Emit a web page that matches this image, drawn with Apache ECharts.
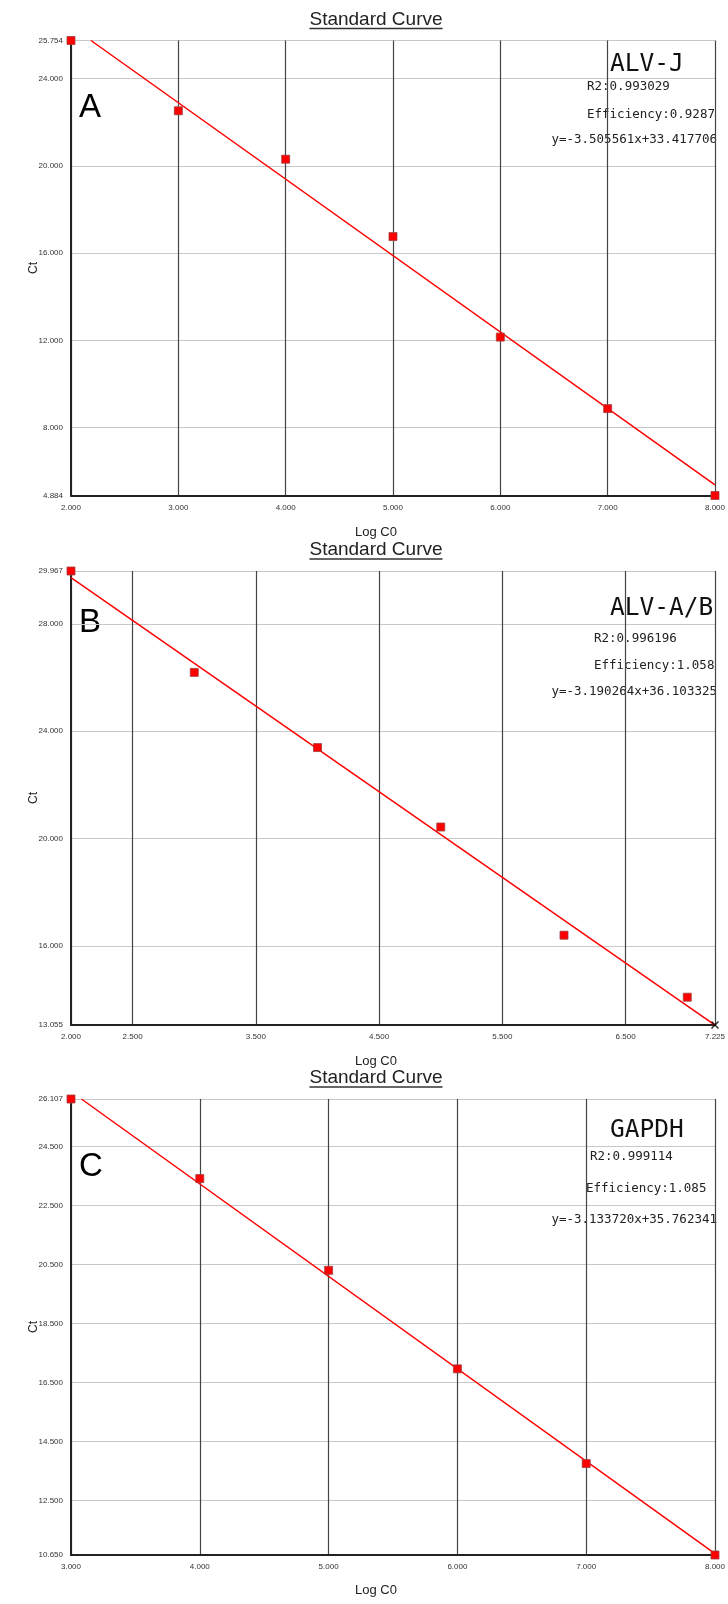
<!DOCTYPE html>
<html>
<head>
<meta charset="utf-8">
<script src="https://cdn.jsdelivr.net/npm/echarts@6/dist/echarts.min.js"></script>
<style>
  html, body { margin: 0; padding: 0; background: #fff; }
  #chart { width: 728px; height: 1604px; }
</style>
</head>
<body>
<div id="chart"></div>
<script>
// panel A (ALV-J)
const logC0A = [2, 3, 4, 5, 6, 7, 8];
const ctA = [25.754, 22.53, 20.31, 16.76, 12.15, 8.87, 4.884];
const fitA = [[2.186, 25.754], [8, 5.373]];
const xTicksA = [2, 3, 4, 5, 6, 7, 8];
const yTicksA = [4.884, 8, 12, 16, 20, 24, 25.754];

// panel B (ALV-A/B)
const logC0B = [2, 3, 4, 5, 6, 7];
const ctB = [29.967, 26.19, 23.39, 20.43, 16.4, 14.09];
const fitB = [[2, 29.723], [7.225, 13.054]];
const crossB = [[7.225, 13.055]];
const xTicksB = [2, 2.5, 3.5, 4.5, 5.5, 6.5, 7.225];
const yTicksB = [13.055, 16, 20, 24, 28, 29.967];

// panel C (GAPDH)
const logC0C = [3, 4, 5, 6, 7, 8];
const ctC = [26.107, 23.41, 20.3, 16.96, 13.75, 10.65];
const fitC = [[3.081, 26.107], [8, 10.693]];
const xTicksC = [3, 4, 5, 6, 7, 8];
const yTicksC = [10.65, 12.5, 14.5, 16.5, 18.5, 20.5, 22.5, 24.5, 26.107];

const panelLetters = ['A', 'B', 'C'];
const geneNames = ['ALV-J', 'ALV-A/B', 'GAPDH'];
const r2Texts = ['R2:0.993029', 'R2:0.996196', 'R2:0.999114'];
const effTexts = ['Efficiency:0.9287', 'Efficiency:1.058', 'Efficiency:1.085'];
const eqTexts = ['y=-3.505561x+33.417706', 'y=-3.190264x+36.103325', 'y=-3.133720x+35.762341'];
const titleText = 'Standard Curve';
const xName = 'Log C0';
const yName = 'Ct';

const pts = (xs, ys) => xs.map((x, i) => [x, ys[i]]);

const panels = [
  { top: 40.5, height: 455, xTicks: xTicksA, yTicks: yTicksA, data: pts(logC0A, ctA), fit: fitA,
    letterY: 108, geneY: 65, r2: [587, 87], eff: [587, 115], eqY: 140, nameY: 532 },
  { top: 571, height: 454, xTicks: xTicksB, yTicks: yTicksB, data: pts(logC0B, ctB), fit: fitB,
    letterY: 623, geneY: 609, r2: [594, 639], eff: [594, 666], eqY: 692, nameY: 1061 },
  { top: 1099, height: 456, xTicks: xTicksC, yTicks: yTicksC, data: pts(logC0C, ctC), fit: fitC,
    letterY: 1167, geneY: 1131, r2: [590, 1157], eff: [586, 1189], eqY: 1220, nameY: 1590 }
];

const fmt = v => Number(v).toFixed(3);
const monoFont = '"DejaVu Sans Mono", monospace';
const sansFont = '"Liberation Sans", Arial, sans-serif';

const grids = [], xAxes = [], yAxes = [], series = [], graphics = [];

const ctx = document.createElement('canvas').getContext('2d');
ctx.font = '19px ' + sansFont;
const titleW = ctx.measureText(titleText).width;

panels.forEach((p, i) => {
  grids.push({ left: 71, width: 646, top: p.top, height: p.height });
  xAxes.push({
    type: 'value',
    gridIndex: i,
    min: p.xTicks[0],
    max: p.xTicks[p.xTicks.length - 1],
    axisLine: { onZero: false, lineStyle: { color: '#222', width: 2 } },
    axisTick: { show: false, customValues: p.xTicks },
    axisLabel: {
      customValues: p.xTicks,
      formatter: fmt,
      fontSize: 8,
      color: '#333',
      margin: 8,
      fontFamily: sansFont
    },
    splitLine: { show: true, lineStyle: { color: '#444', width: 1.2 } }
  });
  yAxes.push({
    type: 'value',
    gridIndex: i,
    min: p.yTicks[0],
    max: p.yTicks[p.yTicks.length - 1],
    name: yName,
    nameLocation: 'middle',
    nameGap: 31,
    nameMoveOverlap: false,
    nameRotate: 90,
    nameTextStyle: { fontSize: 12, color: '#222', fontFamily: sansFont },
    axisLine: { show: true, onZero: false, lineStyle: { color: '#222', width: 2 } },
    axisTick: { show: false, customValues: p.yTicks },
    axisLabel: {
      customValues: p.yTicks,
      formatter: fmt,
      fontSize: 8,
      color: '#333',
      margin: 8,
      fontFamily: sansFont
    },
    splitLine: { show: true, lineStyle: { color: '#c8c8c8', width: 1 } }
  });
  series.push({
    type: 'line',
    xAxisIndex: i,
    yAxisIndex: i,
    data: p.fit,
    showSymbol: false,
    lineStyle: { color: '#ff0000', width: 1.5 },
    z: 3
  });
  series.push({
    type: 'scatter',
    xAxisIndex: i,
    yAxisIndex: i,
    data: p.data,
    symbol: 'rect',
    symbolSize: 8,
    clip: false,
    itemStyle: { color: '#ff0000', borderColor: '#a04040', borderWidth: 0.8, opacity: 1 },
    z: 4
  });

  const tY = p.top - 21;
  graphics.push(
    { type: 'text', x: 376, y: tY, style: { text: titleText, fill: '#222', font: '19px ' + sansFont,
      align: 'center', verticalAlign: 'middle', textAlign: 'center', textVerticalAlign: 'middle' } },
    { type: 'line', shape: { x1: 376 - titleW / 2, y1: tY + 9, x2: 376 + titleW / 2, y2: tY + 9 },
      style: { stroke: '#333', lineWidth: 1.3 } },
    { type: 'text', x: 376, y: p.nameY, style: { text: xName, fill: '#222', font: '13px ' + sansFont,
      align: 'center', verticalAlign: 'middle', textAlign: 'center', textVerticalAlign: 'middle' } },
    { type: 'text', x: 79, y: p.letterY, style: { text: panelLetters[i], fill: '#000', font: '33px ' + sansFont,
      align: 'left', verticalAlign: 'middle', textAlign: 'left', textVerticalAlign: 'middle' } },
    { type: 'text', x: 610, y: p.geneY, style: { text: geneNames[i], fill: '#111', font: '24.5px ' + monoFont,
      align: 'left', verticalAlign: 'middle', textAlign: 'left', textVerticalAlign: 'middle' } },
    { type: 'text', x: p.r2[0], y: p.r2[1], style: { text: r2Texts[i], fill: '#222', font: '12.5px ' + monoFont,
      align: 'left', verticalAlign: 'middle', textAlign: 'left', textVerticalAlign: 'middle' } },
    { type: 'text', x: p.eff[0], y: p.eff[1], style: { text: effTexts[i], fill: '#222', font: '12.5px ' + monoFont,
      align: 'left', verticalAlign: 'middle', textAlign: 'left', textVerticalAlign: 'middle' } },
    { type: 'text', x: 717, y: p.eqY, style: { text: eqTexts[i], fill: '#222', font: '12.5px ' + monoFont,
      align: 'right', verticalAlign: 'middle', textAlign: 'right', textVerticalAlign: 'middle' } }
  );
});

// the black cross at the lower right corner of panel B
series.push({
  type: 'scatter',
  xAxisIndex: 1,
  yAxisIndex: 1,
  data: crossB,
  symbol: 'path://M0,0L10,10M10,0L0,10',
  symbolSize: 7,
  clip: false,
  itemStyle: { color: 'none', borderColor: '#000', borderWidth: 1.5 },
  z: 5
});

const chart = echarts.init(document.getElementById('chart'));
chart.setOption({
  animation: false,
  backgroundColor: '#fff',
  grid: grids,
  xAxis: xAxes,
  yAxis: yAxes,
  series: series,
  graphic: { elements: graphics }
});
</script>
</body>
</html>
